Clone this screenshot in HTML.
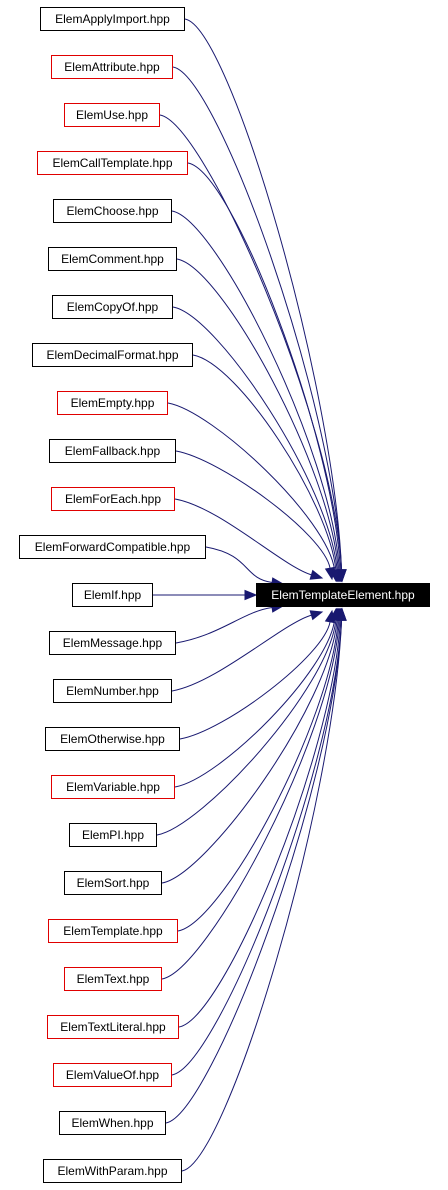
<!DOCTYPE html>
<html><head><meta charset="utf-8"><style>
body{margin:0;width:448px;height:1190px;background:#fff;position:relative;overflow:hidden;font-family:"Liberation Sans",Arial,sans-serif}
.n{position:absolute;height:22px;border:1px solid #000;box-sizing:content-box;font-size:12px;line-height:22px;text-align:center;background:#fff;color:#000;white-space:nowrap}
.r{border-color:#e00000}
.t{background:#000;color:#fff;border-color:#000}
svg{position:absolute;left:0;top:0}
</style></head><body>
<svg id="s" width="448" height="1190"></svg>
<div class="n" style="left:40px;top:7px;width:143px">ElemApplyImport.hpp</div>
<div class="n r" style="left:51px;top:55px;width:120px">ElemAttribute.hpp</div>
<div class="n r" style="left:64px;top:103px;width:94px">ElemUse.hpp</div>
<div class="n r" style="left:37px;top:151px;width:149px">ElemCallTemplate.hpp</div>
<div class="n" style="left:53px;top:199px;width:117px">ElemChoose.hpp</div>
<div class="n" style="left:48px;top:247px;width:127px">ElemComment.hpp</div>
<div class="n" style="left:52px;top:295px;width:119px">ElemCopyOf.hpp</div>
<div class="n" style="left:32px;top:343px;width:159px">ElemDecimalFormat.hpp</div>
<div class="n r" style="left:57px;top:391px;width:109px">ElemEmpty.hpp</div>
<div class="n" style="left:49px;top:439px;width:125px">ElemFallback.hpp</div>
<div class="n r" style="left:51px;top:487px;width:122px">ElemForEach.hpp</div>
<div class="n" style="left:19px;top:535px;width:185px">ElemForwardCompatible.hpp</div>
<div class="n" style="left:72px;top:583px;width:79px">ElemIf.hpp</div>
<div class="n" style="left:49px;top:631px;width:125px">ElemMessage.hpp</div>
<div class="n" style="left:53px;top:679px;width:117px">ElemNumber.hpp</div>
<div class="n" style="left:45px;top:727px;width:133px">ElemOtherwise.hpp</div>
<div class="n r" style="left:51px;top:775px;width:122px">ElemVariable.hpp</div>
<div class="n" style="left:69px;top:823px;width:86px">ElemPI.hpp</div>
<div class="n" style="left:64px;top:871px;width:96px">ElemSort.hpp</div>
<div class="n r" style="left:48px;top:919px;width:128px">ElemTemplate.hpp</div>
<div class="n r" style="left:64px;top:967px;width:96px">ElemText.hpp</div>
<div class="n r" style="left:47px;top:1015px;width:130px">ElemTextLiteral.hpp</div>
<div class="n r" style="left:53px;top:1063px;width:117px">ElemValueOf.hpp</div>
<div class="n" style="left:59px;top:1111px;width:105px">ElemWhen.hpp</div>
<div class="n" style="left:43px;top:1159px;width:137px">ElemWithParam.hpp</div>
<div class="n t" style="left:256px;top:583px;width:172px">ElemTemplateElement.hpp</div>
<script>
var xr=[185,173,160,188,172,177,173,193,168,176,175,206,153,176,172,180,175,157,162,178,162,179,172,166,182];
var s='';
for(var i=0;i<25;i++){
 var yc=19+48*i,k=Math.abs(i-12),up=i<12;
 var ex,ey;
 if(k==0){ex=256;ey=595;}
 else if(k==1){ex=283;ey=up?584:606;}
 else if(k==2){ex=322;ey=up?578:612;}
 else if(k==3){ex=332;ey=up?579:611;}
 else{ex=336+Math.min(k-4,6);ey=up?581:609;}
 var x0=xr[i],c1x,c1y,c2x,c2y;
 if(k==0){c1x=x0+30;c1y=yc;c2x=ex-30;c2y=ey;}
 else{c1x=x0+45;c1y=yc+(up?8:-8);c2x=ex-(k<=2?40:8);c2y=ey-(ey-yc)*(k<=2?0.15:0.35);}
 // arrow direction
 var dx=ex-c2x,dy=ey-c2y,L=Math.sqrt(dx*dx+dy*dy);dx/=L;dy/=L;
 var bx=ex-dx*11,by=ey-dy*11;
 s+='<path d="M'+x0+','+yc+' C'+c1x+','+c1y+' '+c2x+','+c2y+' '+bx+','+by+'" fill="none" stroke="#191970" stroke-width="1"/>';
 s+='<polygon points="'+ex+','+ey+' '+(bx-dy*4.5)+','+(by+dx*4.5)+' '+(bx+dy*4.5)+','+(by-dx*4.5)+'" fill="#191970" stroke="#191970"/>';
}
document.getElementById('s').innerHTML=s;
</script>
</body></html>
